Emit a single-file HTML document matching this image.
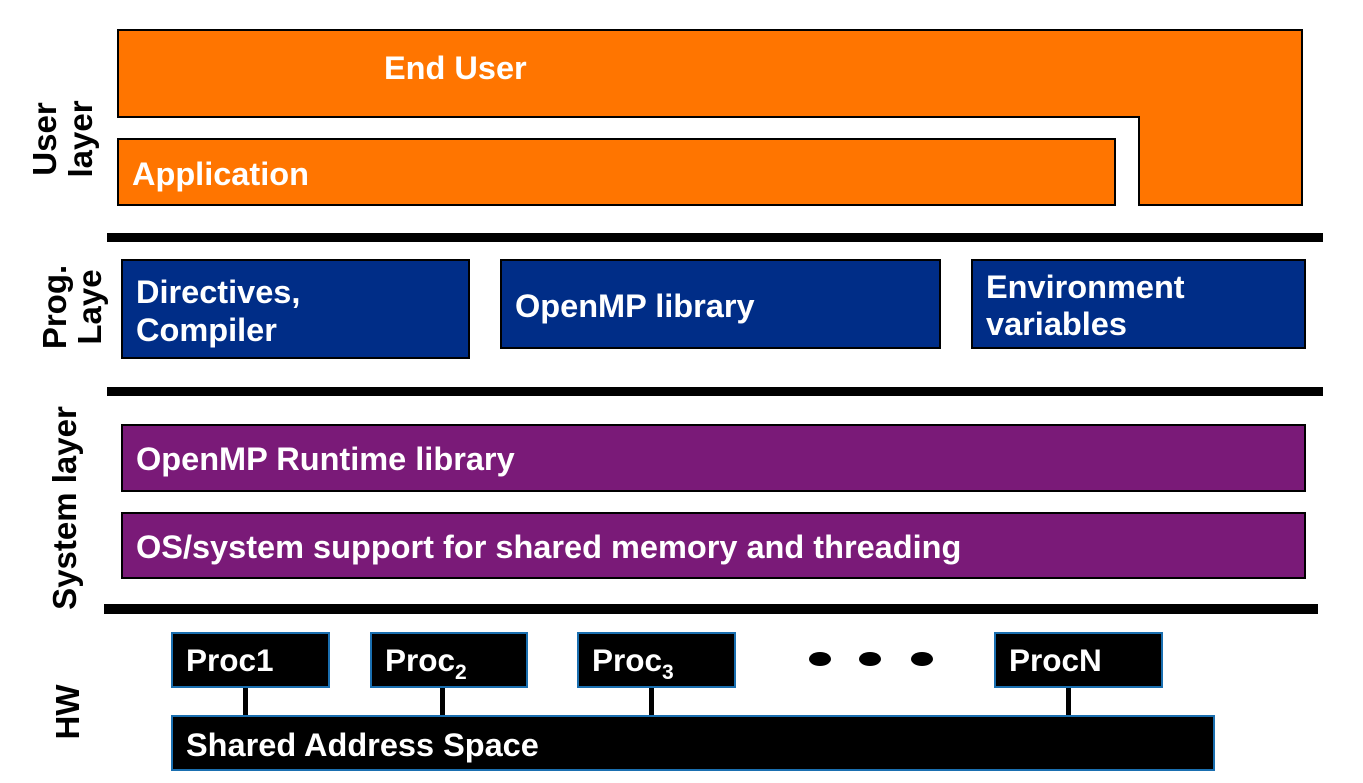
<!DOCTYPE html>
<html><head><meta charset="utf-8"><style>
html,body{margin:0;padding:0;background:#fff;}
svg{display:block;}
text{font-family:"Liberation Sans",Arial,sans-serif;font-weight:bold;}
</style></head><body>
<svg width="1363" height="783" viewBox="0 0 1363 783" xmlns="http://www.w3.org/2000/svg">
<polygon points="118,30 1302,30 1302,205 1139,205 1139,117 118,117" fill="#FF7500" stroke="#000" stroke-width="2"/>
<text x="384" y="79" font-size="32.5" fill="#fff">End User</text>
<rect x="118" y="139" width="997" height="66" fill="#FF7500" stroke="#000" stroke-width="2"/>
<text x="132" y="185" font-size="32.5" fill="#fff">Application</text>
<rect x="107" y="233" width="1216" height="9" fill="#000"/>
<rect x="107" y="387" width="1216" height="9" fill="#000"/>
<rect x="104" y="604" width="1214" height="10" fill="#000"/>
<rect x="122" y="260" width="347" height="98" fill="#002D87" stroke="#000" stroke-width="2"/>
<text x="136" y="303" font-size="32.5" fill="#fff">Directives,</text>
<text x="136" y="341" font-size="32.5" fill="#fff">Compiler</text>
<rect x="501" y="260" width="439" height="88" fill="#002D87" stroke="#000" stroke-width="2"/>
<text x="515" y="317" font-size="32.5" fill="#fff">OpenMP library</text>
<rect x="972" y="260" width="333" height="88" fill="#002D87" stroke="#000" stroke-width="2"/>
<text x="986" y="298" font-size="32.5" fill="#fff">Environment</text>
<text x="986" y="335" font-size="32.5" fill="#fff">variables</text>
<rect x="122" y="425" width="1183" height="66" fill="#7A1A78" stroke="#000" stroke-width="2"/>
<text x="136" y="470" font-size="32.5" fill="#fff">OpenMP Runtime library</text>
<rect x="122" y="513" width="1183" height="65" fill="#7A1A78" stroke="#000" stroke-width="2"/>
<text x="136" y="558" font-size="32.5" fill="#fff">OS/system support for shared memory and threading</text>
<rect x="243" y="686" width="5" height="31" fill="#000"/>
<rect x="440" y="686" width="5" height="31" fill="#000"/>
<rect x="649" y="686" width="5" height="31" fill="#000"/>
<rect x="1066" y="686" width="5" height="31" fill="#000"/>
<rect x="172" y="633" width="157" height="54" fill="#000" stroke="#1A6FB0" stroke-width="2"/>
<text x="186" y="671" font-size="31.5" fill="#fff">Proc1</text>
<rect x="371" y="633" width="156" height="54" fill="#000" stroke="#1A6FB0" stroke-width="2"/>
<text x="385" y="671" font-size="31.5" fill="#fff">Proc<tspan font-size="21" dy="8">2</tspan></text>
<rect x="578" y="633" width="157" height="54" fill="#000" stroke="#1A6FB0" stroke-width="2"/>
<text x="592" y="671" font-size="31.5" fill="#fff">Proc<tspan font-size="21" dy="8">3</tspan></text>
<rect x="995" y="633" width="167" height="54" fill="#000" stroke="#1A6FB0" stroke-width="2"/>
<text x="1009" y="671" font-size="31.5" fill="#fff">ProcN</text>
<ellipse cx="820" cy="659" rx="11" ry="7" fill="#000"/>
<ellipse cx="870" cy="659" rx="11" ry="7" fill="#000"/>
<ellipse cx="922" cy="659" rx="11" ry="7" fill="#000"/>
<rect x="172" y="716" width="1042" height="54" fill="#000" stroke="#1A6FB0" stroke-width="2"/>
<text x="186" y="756" font-size="32.5" fill="#fff">Shared Address Space</text>
<g font-size="33" fill="#000" text-anchor="middle">
<text transform="translate(56,139) rotate(-90)">User</text>
<text transform="translate(92,139) rotate(-90)">layer</text>
<text transform="translate(66,307) rotate(-90)">Prog.</text>
<text transform="translate(101,307) rotate(-90)">Laye</text>
<text transform="translate(76,508) rotate(-90)">System layer</text>
<text transform="translate(79,712) rotate(-90)">HW</text>
</g>
</svg>
</body></html>
